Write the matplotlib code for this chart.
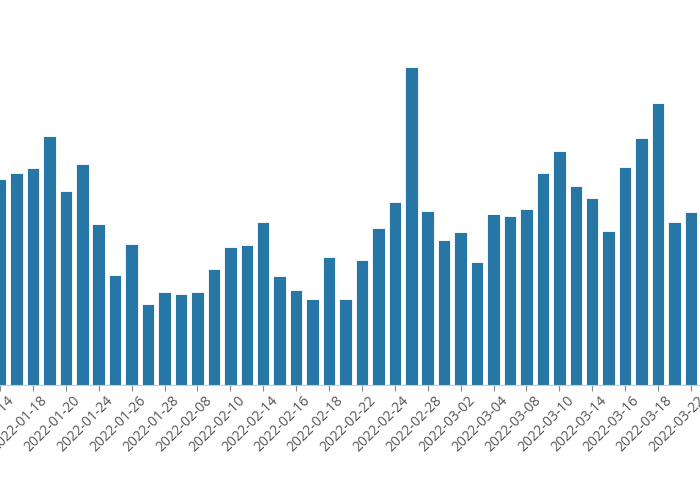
import matplotlib
matplotlib.use("Agg")
import matplotlib.pyplot as plt
import matplotlib.transforms as mtransforms

# trading days (every other one is labelled on the axis)
dates = [
    "2022-01-14", "2022-01-17", "2022-01-18", "2022-01-19", "2022-01-20",
    "2022-01-21", "2022-01-24", "2022-01-25", "2022-01-26", "2022-01-27",
    "2022-01-28", "2022-02-07", "2022-02-08", "2022-02-09", "2022-02-10",
    "2022-02-11", "2022-02-14", "2022-02-15", "2022-02-16", "2022-02-17",
    "2022-02-18", "2022-02-21", "2022-02-22", "2022-02-23", "2022-02-24",
    "2022-02-25", "2022-02-28", "2022-03-01", "2022-03-02", "2022-03-03",
    "2022-03-04", "2022-03-07", "2022-03-08", "2022-03-09", "2022-03-10",
    "2022-03-11", "2022-03-14", "2022-03-15", "2022-03-16", "2022-03-17",
    "2022-03-18", "2022-03-21", "2022-03-22",
]
values = [
    205.7, 211.7, 217.0, 249.0, 194.3, 221.3, 161.0, 110.0, 140.7, 80.7,
    92.7, 90.7, 92.7, 116.3, 138.0, 140.3, 163.0, 109.0, 95.0, 86.3,
    128.3, 86.3, 125.0, 157.3, 183.3, 317.7, 174.0, 145.0, 153.3, 123.3,
    170.7, 169.0, 176.3, 212.3, 233.7, 199.0, 187.3, 154.0, 218.3, 246.7,
    281.7, 162.7, 172.7,
]

BAR_COLOR = "#2676a6"
TEXT_COLOR = "#555555"

plt.rcParams["font.family"] = ["Open Sans", "DejaVu Sans"]

fig = plt.figure(figsize=(7, 5), dpi=100)
ax = fig.add_axes([0, 0.23, 1, 0.77])

x = list(range(len(dates)))
ax.bar(x, values, width=0.76, color=BAR_COLOR, edgecolor="white", linewidth=0.6)

ax.set_xlim(0.37, 42.55)
ax.set_ylim(0, 385)

# ticks on every other bar, labels drawn by hand so they can sit a bit right
ax.set_xticks(x[::2])
ax.set_xticklabels([])
shift = mtransforms.ScaledTranslation(0.175, -0.085, fig.dpi_scale_trans)
for i in x[::2]:
    ax.text(i, 0, dates[i], rotation=45, ha="right", va="top",
            fontsize=10, color=TEXT_COLOR, clip_on=False,
            transform=ax.get_xaxis_transform() + shift)

ax.tick_params(axis="x", length=4, width=0.8, color="#888888")
ax.set_yticks([])
for side in ("top", "right", "left"):
    ax.spines[side].set_visible(False)
ax.spines["bottom"].set_color("#cccccc")
ax.spines["bottom"].set_linewidth(0.8)

fig.savefig("out.png", dpi=100)
